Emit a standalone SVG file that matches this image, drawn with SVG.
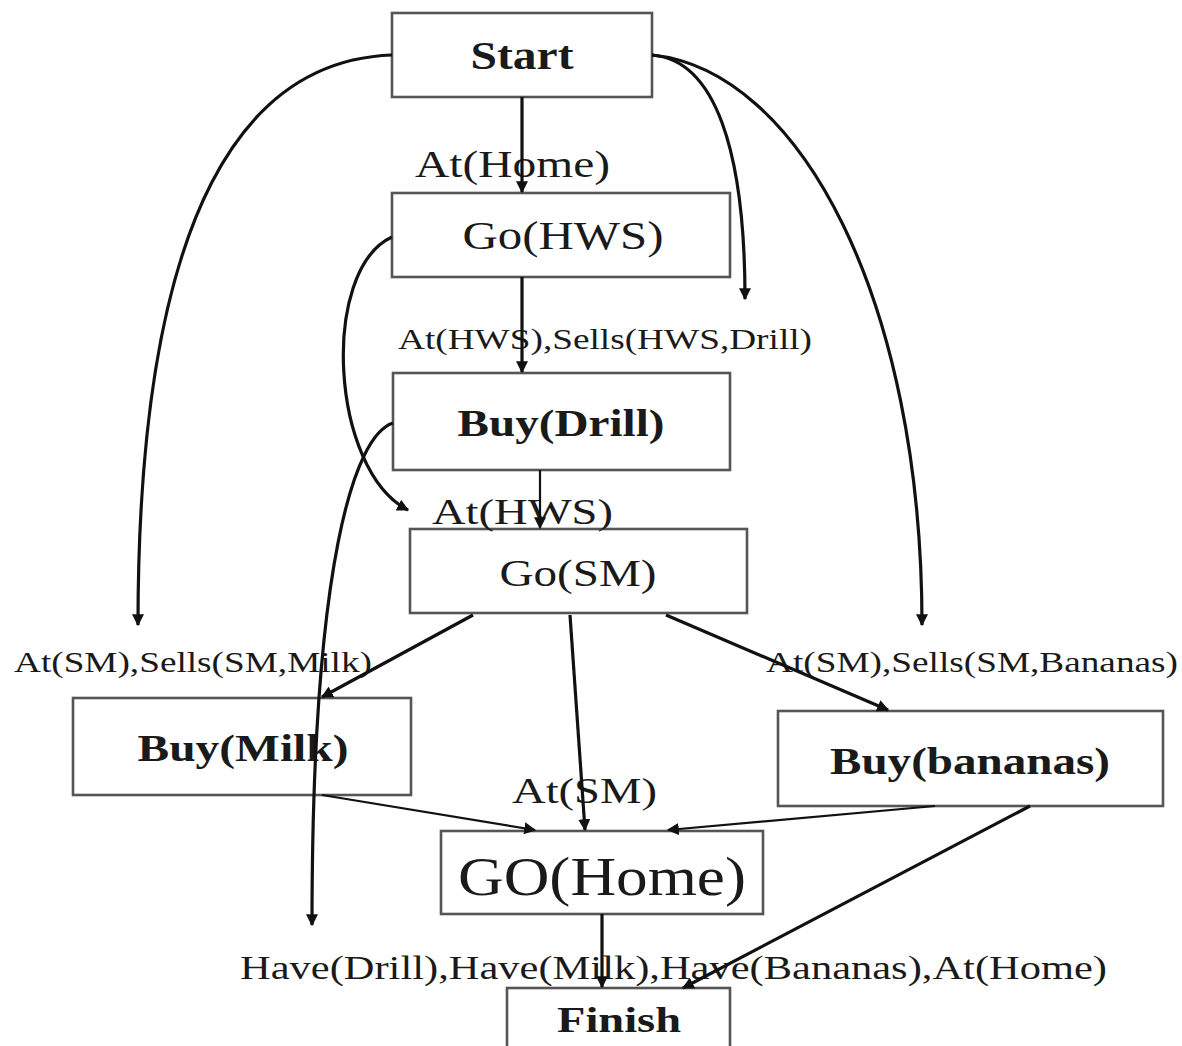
<svg xmlns="http://www.w3.org/2000/svg" width="1182" height="1046" viewBox="0 0 1182 1046">
  <style>
    .box { fill: #ffffff; stroke: #555555; stroke-width: 2.6; }
    .t { font-family: "Liberation Serif", "Times New Roman", serif; fill: #1a1a1a; }
    .b { font-weight: bold; }
    .edge { fill: none; stroke: #111111; stroke-width: 3.2; }
    .thin { stroke-width: 2.2; }
  </style>
  <defs>
    <marker id="arrow" viewBox="0 0 10 10" refX="9" refY="5" markerWidth="12" markerHeight="12" markerUnits="userSpaceOnUse" orient="auto">
      <path d="M0,0 L10,5 L0,10 z" fill="#111111"/>
    </marker>
  </defs>
  <rect width="1182" height="1046" fill="#ffffff"/>

  <!-- plan steps -->
  <g id="start">
    <rect class="box" x="392" y="13" width="260" height="84"/>
    <text class="t b" x="522" y="69" font-size="39" text-anchor="middle" textLength="103" lengthAdjust="spacingAndGlyphs">Start</text>
  </g>
  <g id="go-hws">
    <rect class="box" x="392" y="193" width="338" height="84"/>
    <text class="t" x="563" y="249" font-size="39" text-anchor="middle" textLength="201" lengthAdjust="spacingAndGlyphs">Go(HWS)</text>
  </g>
  <g id="buy-drill">
    <rect class="box" x="393" y="373" width="337" height="97"/>
    <text class="t b" x="561" y="436" font-size="38" text-anchor="middle" textLength="207" lengthAdjust="spacingAndGlyphs">Buy(Drill)</text>
  </g>
  <g id="go-sm">
    <rect class="box" x="410" y="529" width="337" height="84"/>
    <text class="t" x="578" y="586" font-size="37" text-anchor="middle" textLength="157" lengthAdjust="spacingAndGlyphs">Go(SM)</text>
  </g>
  <g id="buy-milk">
    <rect class="box" x="73" y="698" width="338" height="97"/>
    <text class="t b" x="243" y="761" font-size="38" text-anchor="middle" textLength="211" lengthAdjust="spacingAndGlyphs">Buy(Milk)</text>
  </g>
  <g id="buy-bananas">
    <rect class="box" x="778" y="711" width="385" height="95"/>
    <text class="t b" x="970" y="774" font-size="38" text-anchor="middle" textLength="280" lengthAdjust="spacingAndGlyphs">Buy(bananas)</text>
  </g>
  <g id="go-home">
    <rect class="box" x="441" y="831" width="322" height="83"/>
    <text class="t" x="602" y="895" font-size="54" text-anchor="middle" textLength="288" lengthAdjust="spacingAndGlyphs">GO(Home)</text>
  </g>
  <g id="finish">
    <rect class="box" x="507" y="988" width="223" height="70"/>
    <text class="t b" x="619" y="1032" font-size="36" text-anchor="middle" textLength="124" lengthAdjust="spacingAndGlyphs">Finish</text>
  </g>

  <!-- preconditions -->
  <g id="conditions">
    <text class="t" x="415" y="177" font-size="37" textLength="195" lengthAdjust="spacingAndGlyphs">At(Home)</text>
    <text class="t" x="398" y="349" font-size="29" textLength="414" lengthAdjust="spacingAndGlyphs">At(HWS),Sells(HWS,Drill)</text>
    <text class="t" x="432" y="524" font-size="36" textLength="181" lengthAdjust="spacingAndGlyphs">At(HWS)</text>
    <text class="t" x="14" y="672" font-size="29" textLength="358" lengthAdjust="spacingAndGlyphs">At(SM),Sells(SM,Milk)</text>
    <text class="t" x="766" y="672" font-size="29" textLength="412" lengthAdjust="spacingAndGlyphs">At(SM),Sells(SM,Bananas)</text>
    <text class="t" x="512" y="803" font-size="36" textLength="145" lengthAdjust="spacingAndGlyphs">At(SM)</text>
    <text class="t" x="240" y="979" font-size="34" textLength="867" lengthAdjust="spacingAndGlyphs">Have(Drill),Have(Milk),Have(Bananas),At(Home)</text>
  </g>

  <!-- causal links -->
  <g id="connectors">
    <path class="edge" d="M522,97 L522,192" marker-end="url(#arrow)"/>
    <path class="edge" d="M392,55 C250,60 138,200 138,625" marker-end="url(#arrow)"/>
    <path class="edge" d="M652,55 C715,60 745,150 745,299" marker-end="url(#arrow)"/>
    <path class="edge" d="M652,55 C800,70 922,300 922,625" marker-end="url(#arrow)"/>
    <path class="edge" d="M522,277 L522,372" marker-end="url(#arrow)"/>
    <path class="edge" d="M392,237 C320,270 330,470 408,510" marker-end="url(#arrow)"/>
    <path class="edge" d="M393,423 C355,435 312,560 312,925" marker-end="url(#arrow)"/>
    <path class="edge thin" d="M540,470 L540,528" marker-end="url(#arrow)"/>
    <path class="edge" d="M473,615 L322,697" marker-end="url(#arrow)"/>
    <path class="edge" d="M570,615 L585,830" marker-end="url(#arrow)"/>
    <path class="edge" d="M666,615 L888,710" marker-end="url(#arrow)"/>
    <path class="edge thin" d="M322,795 L535,830" marker-end="url(#arrow)"/>
    <path class="edge thin" d="M935,806 L668,830" marker-end="url(#arrow)"/>
    <path class="edge" d="M1030,806 L683,988" marker-end="url(#arrow)"/>
    <path class="edge" d="M602,914 L602,987" marker-end="url(#arrow)"/>
  </g>
</svg>
